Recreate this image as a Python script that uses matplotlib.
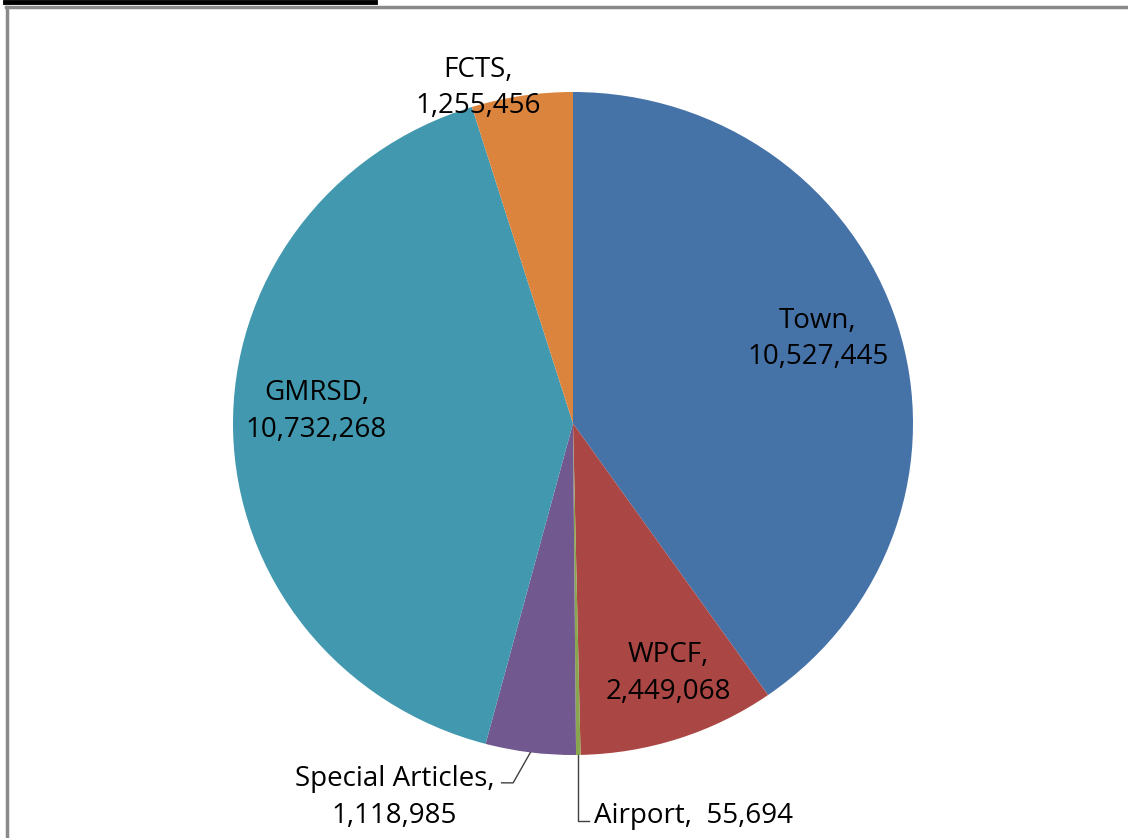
import numpy as np
import matplotlib
matplotlib.use("Agg")
from matplotlib import pyplot as plt
from matplotlib.lines import Line2D

labels = ["Town", "WPCF", "Airport", "Special Articles", "GMRSD", "FCTS"]
values = [10527445, 2449068, 55694, 1118985, 10732268, 1255456]
colors = ["#4572A7", "#AA4643", "#89A54E", "#71588F", "#4198AF", "#DB843D"]

plt.rcParams["font.family"] = ["Open Sans", "DejaVu Sans"]

W, H = 1128, 838
fig = plt.figure(figsize=(W / 100, H / 100), dpi=100)

# pie area in pixels (slightly wider than tall, as in the reference)
left_px, right_px, top_px, bot_px = 233, 913, 92, 755
ax = fig.add_axes([left_px / W, 1 - bot_px / H,
                   (right_px - left_px) / W, (bot_px - top_px) / H])
wedges, _ = ax.pie(values, colors=colors, startangle=90, counterclock=False,
                   radius=1.0, wedgeprops=dict(linewidth=0))
ax.set_aspect("auto")
ax.set_xlim(-1, 1)
ax.set_ylim(-1, 1)
ax.axis("off")


def fmt(v):
    return f"{v:,}"


fs = 20
label_pos = {
    "Town": (0.72, 0.255),
    "WPCF": (0.28, -0.755),
    "GMRSD": (-0.755, 0.035),
    "FCTS": (-0.28, 1.012),
    "Special Articles": (-0.525, -1.128),
}
for name, val in zip(labels, values):
    if name in label_pos:
        x, y = label_pos[name]
        ax.text(x, y, f"{name},\n{fmt(val)}", ha="center", va="center",
                fontsize=fs, linespacing=1.42, color="black")


def mid_point(i, r=1.0):
    w = wedges[i]
    a = np.deg2rad((w.theta1 + w.theta2) / 2)
    return r * np.cos(a), r * np.sin(a)


# Special Articles leader
sx, sy = mid_point(3)
ax.add_line(Line2D([sx, -0.176, -0.21], [sy, -1.084, -1.084],
                   color="#404040", lw=1.0, clip_on=False))
# Airport leader
axx, ayy = mid_point(2)
ax.add_line(Line2D([axx, axx, axx + 0.03], [ayy, -1.199, -1.199],
                   color="#404040", lw=1.0, clip_on=False))
ax.text(axx + 0.045, -1.183, f"{labels[2]},  {fmt(values[2])}", ha="left",
        va="center", fontsize=fs, color="black")

# chart frame (only top and left edges visible) and cut-off title underline
fig.add_artist(Line2D([6 / W, 1], [1 - 7.5 / H, 1 - 7.5 / H], color="#8a8a8a", lw=2.5))
fig.add_artist(Line2D([7 / W, 7 / W], [0, 1 - 7.5 / H], color="#8a8a8a", lw=2.5))
fig.add_artist(Line2D([5 / W, 375 / W], [1 - 2 / H, 1 - 2 / H], color="black", lw=3.5))

fig.savefig("out.png", dpi=100, facecolor="white")
